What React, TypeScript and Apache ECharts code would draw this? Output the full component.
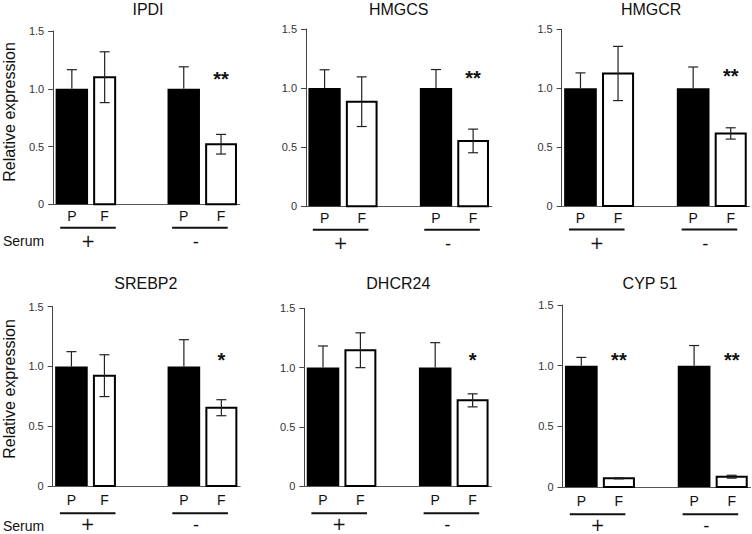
import React, { useEffect, useRef } from 'react';
import * as echarts from 'echarts';

// ---------------- data ----------------
const titles = ['IPDI', 'HMGCS', 'HMGCR', 'SREBP2', 'DHCR24', 'CYP 51'];
const categories = ['P', 'F', '', 'P', 'F'];
const barSlots = [0, 1, 3, 4]; // P(+), F(+), P(-), F(-)
const serumGroups = ['+', '-'];
const groupSlots = [[0, 1], [3, 4]];
const yMax = 1.5;
const yStep = 0.5;

const ipdiMean = [1.0, 1.1, 1.0, 0.52];
const ipdiErr = [0.165, 0.22, 0.19, 0.085];
const hmgcsMean = [1.0, 0.885, 1.0, 0.553];
const hmgcsErr = [0.155, 0.21, 0.157, 0.1];
const hmgcrMean = [1.0, 1.125, 1.0, 0.616];
const hmgcrErr = [0.13, 0.23, 0.18, 0.048];
const srebp2Mean = [1.0, 0.923, 1.0, 0.655];
const srebp2Err = [0.124, 0.175, 0.224, 0.067];
const dhcr24Mean = [1.0, 1.146, 1.0, 0.723];
const dhcr24Err = [0.182, 0.147, 0.21, 0.055];
const cyp51Mean = [1.0, 0.072, 1.0, 0.085];
const cyp51Err = [0.068, 0.005, 0.166, 0.012];

const means = [ipdiMean, hmgcsMean, hmgcrMean, srebp2Mean, dhcr24Mean, cyp51Mean];
const errs = [ipdiErr, hmgcsErr, hmgcrErr, srebp2Err, dhcr24Err, cyp51Err];

const ipdiSig = ['', '', '', '**'];
const hmgcsSig = ['', '', '', '**'];
const hmgcrSig = ['', '', '', '**'];
const srebp2Sig = ['', '', '', '*'];
const dhcr24Sig = ['', '', '', '*'];
const cyp51Sig = ['', '**', '', '**'];
const sigs = [ipdiSig, hmgcsSig, hmgcrSig, srebp2Sig, dhcr24Sig, cyp51Sig];

// ---------------- layout / style ----------------
const FONT = '"Liberation Sans", Arial, Helvetica, sans-serif';
const SIGN_FONT_FAMILY = '"DejaVu Sans", sans-serif';

const panels = [
  { left: 53.2, top: 31, width: 186.5, height: 173.3, titleX: 148, row: 0, narrowF: true, sigAt: 1.13 },
  { left: 306, top: 29, width: 185.7, height: 177.3, titleX: 398.7, row: 0, narrowF: false, sigAt: 1.13 },
  { left: 561.7, top: 29.3, width: 187.8, height: 176.7, titleX: 651.2, row: 0, narrowF: false, sigAt: 1.15 },
  { left: 52.7, top: 306.7, width: 187.4, height: 179.3, titleX: 145.8, row: 1, narrowF: true, sigAt: 1.1 },
  { left: 304.3, top: 308.3, width: 187, height: 177.7, titleX: 398.3, row: 1, narrowF: false, sigAt: 1.11 },
  { left: 562.5, top: 305, width: 188, height: 182, titleX: 650, row: 1, narrowF: false, sigAt: 1.085 },
];

const rows = [
  { titleY: 9, labelMargin: 5, lineOff: 23.5, signOff: 36.7, ylabelY: 112, serumY: 240.5 },
  { titleY: 283.3, labelMargin: 7, lineOff: 27.2, signOff: 37.8, ylabelY: 389, serumY: 526 },
];
const SIGN_FONT = 17;

function buildOption() {
  const grid: any[] = [];
  const xAxis: any[] = [];
  const yAxis: any[] = [];
  const series: any[] = [];
  const graphic: any[] = [];

  panels.forEach((p, k) => {
    const r = rows[p.row];
    grid.push({ left: p.left, top: p.top, width: p.width, height: p.height, outerBoundsMode: 'none' });
    xAxis.push({
      type: 'category',
      gridIndex: k,
      data: categories,
      axisTick: { show: false },
      axisLine: { lineStyle: { color: '#555', width: 1.2 } },
      axisLabel: {
        interval: 0,
        margin: r.labelMargin,
        fontFamily: FONT,
        fontSize: 14,
        color: '#111',
        formatter: (v: string, i: number) => (p.narrowF && i === 1 ? '{n|' + v + '}' : v),
        rich: { n: { fontFamily: FONT, fontSize: 14, color: '#111', padding: [0, 9, 0, 0] } },
      },
    });
    yAxis.push({
      type: 'value',
      gridIndex: k,
      min: 0,
      max: yMax,
      interval: yStep,
      splitLine: { show: false },
      axisLine: { show: true, lineStyle: { color: '#444', width: 1 } },
      axisTick: { show: true, length: 5, lineStyle: { color: '#444', width: 1 } },
      axisLabel: {
        margin: 9,
        fontFamily: FONT,
        fontSize: 11,
        color: '#333',
        formatter: (v: number) => (v === 0 ? '0' : v.toFixed(1)),
      },
    });

    const data = barSlots.map((slot, j) => [slot, means[k][j], errs[k][j], j]);
    series.push({
      type: 'custom',
      xAxisIndex: k,
      yAxisIndex: k,
      encode: { x: 0, y: 1 },
      data,
      renderItem: (params: any, api: any) => {
        const slot = api.value(0);
        const val = api.value(1);
        const err = api.value(2);
        const j = api.value(3);
        const band = api.size([1, 0])[0];
        const base = api.coord([slot, 0]);
        const top = api.coord([slot, val]);
        const hi = api.coord([slot, val + err]);
        const lo = api.coord([slot, Math.max(0, val - err)]);
        const isP = categories[slot] === 'P';
        let cx = base[0];
        const children: any[] = [];
        const capW = 10;
        const eStyle = { stroke: '#222', lineWidth: 1.2 };
        if (isP) {
          const w = band * 0.87;
          children.push({
            type: 'rect',
            shape: { x: cx - w / 2, y: top[1], width: w, height: base[1] - top[1] },
            style: { fill: '#000' },
          });
          children.push(
            { type: 'line', shape: { x1: cx, y1: top[1], x2: cx, y2: hi[1] }, style: eStyle },
            { type: 'line', shape: { x1: cx - capW / 2, y1: hi[1], x2: cx + capW / 2, y2: hi[1] }, style: eStyle }
          );
        } else {
          let w = band * 0.8;
          if (p.narrowF && slot === 1) {
            w = 21;
            cx -= 4.5;
          }
          children.push({
            type: 'rect',
            shape: { x: cx - w / 2, y: top[1], width: w, height: base[1] - top[1] },
            style: { fill: '#fff', stroke: '#000', lineWidth: 2 },
          });
          children.push(
            { type: 'line', shape: { x1: cx, y1: lo[1], x2: cx, y2: hi[1] }, style: eStyle },
            { type: 'line', shape: { x1: cx - capW / 2, y1: hi[1], x2: cx + capW / 2, y2: hi[1] }, style: eStyle },
            { type: 'line', shape: { x1: cx - capW / 2, y1: lo[1], x2: cx + capW / 2, y2: lo[1] }, style: eStyle }
          );
        }
        const mark = sigs[k][j];
        if (mark) {
          const sp = api.coord([slot, p.sigAt]);
          const fs = 20;
          children.push({
            type: 'text',
            style: {
              text: mark,
              x: base[0],
              y: sp[1] + fs * 0.25,
              align: 'center',
              verticalAlign: 'middle',
              fontFamily: FONT,
              fontSize: fs,
              fontWeight: 'bold',
              fill: '#111',
            },
          });
        }
        return { type: 'group', children };
      },
    });

    // serum group underline and sign
    series.push({
      type: 'custom',
      xAxisIndex: k,
      yAxisIndex: k,
      encode: { x: 0, y: 1 },
      data: groupSlots.map((g, gi) => [g[0], 0, g[1], gi]),
      renderItem: (params: any, api: any) => {
        const a = api.coord([api.value(0), 0]);
        const b = api.coord([api.value(2), 0]);
        const gi = api.value(3);
        const mid = (a[0] + b[0]) / 2;
        const lx = mid - 2.5;
        const sign = serumGroups[gi];
        return {
          type: 'group',
          children: [
            {
              type: 'line',
              shape: { x1: lx - 27.8, y1: a[1] + r.lineOff, x2: lx + 27.8, y2: a[1] + r.lineOff },
              style: { stroke: '#111', lineWidth: 2 },
            },
            {
              type: 'text',
              style: {
                text: sign,
                x: mid + (sign === '+' ? -2.5 : -6.5),
                y: a[1] + r.signOff,
                align: 'center',
                verticalAlign: 'middle',
                fontFamily: SIGN_FONT_FAMILY,
                fontSize: SIGN_FONT,
                fill: '#111',
              },
            },
          ],
        };
      },
    });

    graphic.push({
      type: 'text',
      x: p.titleX,
      y: r.titleY,
      style: {
        text: titles[k],
        align: 'center',
        verticalAlign: 'middle',
        fontFamily: FONT,
        fontSize: 16,
        fill: '#111',
      },
    });
  });

  rows.forEach((r) => {
    graphic.push({
      type: 'text',
      x: 9,
      y: r.ylabelY,
      rotation: Math.PI / 2,
      style: {
        text: 'Relative expression',
        align: 'center',
        verticalAlign: 'middle',
        fontFamily: FONT,
        fontSize: 16,
        fill: '#111',
      },
    });
    graphic.push({
      type: 'text',
      x: 3,
      y: r.serumY,
      style: {
        text: 'Serum',
        align: 'left',
        verticalAlign: 'middle',
        fontFamily: FONT,
        fontSize: 14,
        fill: '#111',
      },
    });
  });

  return {
    animation: false,
    backgroundColor: '#fff',
    grid,
    xAxis,
    yAxis,
    series,
    graphic,
  };
}

export default function App() {
  const ref = useRef<HTMLDivElement>(null);
  useEffect(() => {
    const chart = echarts.init(ref.current as HTMLDivElement, undefined, { renderer: 'svg' });
    chart.setOption(buildOption() as any);
    return () => chart.dispose();
  }, []);
  return <div ref={ref} style={{ position: 'fixed', left: 0, top: 0, width: 752, height: 534 }} />;
}
